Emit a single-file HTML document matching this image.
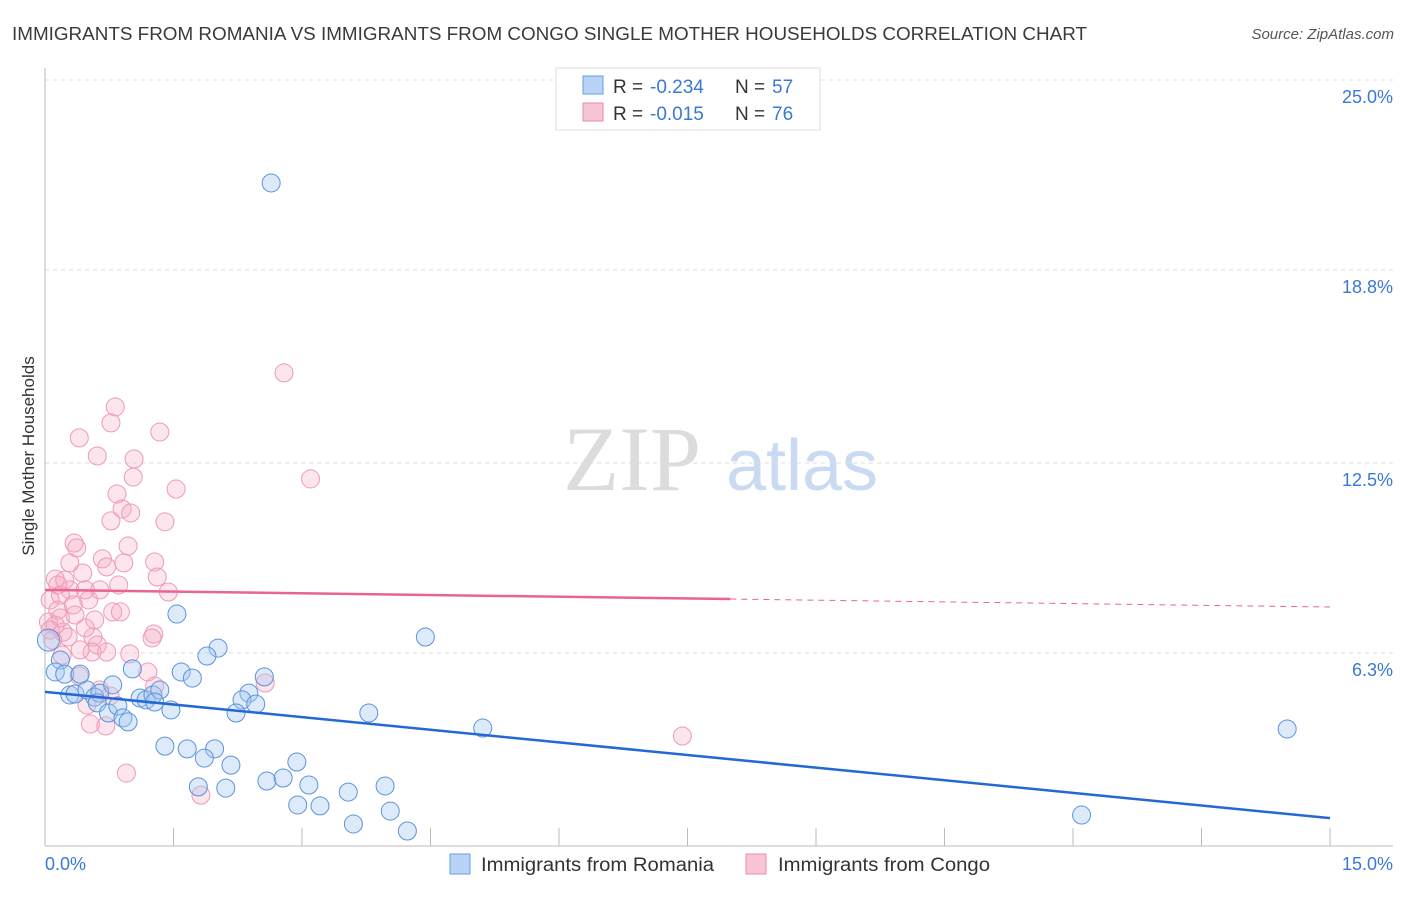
<!DOCTYPE html>
<html><head><meta charset="utf-8"><style>
body{margin:0;background:#fff;font-family:"Liberation Sans",sans-serif;}
svg text{font-family:"Liberation Sans",sans-serif;}
</style></head><body>
<svg id="chart" width="1406" height="892" viewBox="0 0 1406 892" xmlns="http://www.w3.org/2000/svg">
<text x="12" y="40" font-size="18" fill="#3a3a3a" textLength="1075" lengthAdjust="spacingAndGlyphs">IMMIGRANTS FROM ROMANIA VS IMMIGRANTS FROM CONGO SINGLE MOTHER HOUSEHOLDS CORRELATION CHART</text>
<text x="1394" y="39" font-size="15" fill="#555" font-style="italic" text-anchor="end">Source: ZipAtlas.com</text>
<g>
<text x="632" y="490" font-size="92" fill="#dcdcdc" text-anchor="middle" style="font-family:'Liberation Serif',serif">ZIP</text>
<text x="802" y="490" font-size="72" fill="#c9daf1" text-anchor="middle">atlas</text>
</g>
<g id="grid"></g>
<g id="axes"></g>
<g id="marks"></g>
<text transform="translate(34,456) rotate(-90)" font-size="17" fill="#333" text-anchor="middle">Single Mother Households</text>
<g>
<rect x="556" y="68" width="264" height="62" fill="#fff" stroke="#ddd"/>
<rect x="583" y="76" width="20" height="18" fill="#b8d3f5" stroke="#6a9de0"/>
<text x="613" y="93" font-size="19" fill="#333">R =</text>
<text x="650" y="93" font-size="19" fill="#3a78d8">-0.234</text>
<text x="735" y="93" font-size="19" fill="#333">N =</text>
<text x="772" y="93" font-size="19" fill="#3a78d8">57</text>
<rect x="583" y="103" width="20" height="18" fill="#f9c5d4" stroke="#e98aa8"/>
<text x="613" y="120" font-size="19" fill="#333">R =</text>
<text x="650" y="120" font-size="19" fill="#3a78d8">-0.015</text>
<text x="735" y="120" font-size="19" fill="#333">N =</text>
<text x="772" y="120" font-size="19" fill="#3a78d8">76</text>
</g>
<g>
<rect x="450" y="854" width="20" height="20" fill="#b8d3f5" stroke="#6a9de0"/>
<text x="481" y="871" font-size="19" fill="#333" textLength="233" lengthAdjust="spacingAndGlyphs">Immigrants from Romania</text>
<rect x="746" y="854" width="20" height="20" fill="#f9c5d4" stroke="#e98aa8"/>
<text x="778" y="871" font-size="19" fill="#333" textLength="212" lengthAdjust="spacingAndGlyphs">Immigrants from Congo</text>
</g>
</svg>
<script>
const yTicks=[6.3,12.5,18.8,25.0];
const yTickLabels=["6.3%","12.5%","18.8%","25.0%"];
const xTickLabels=["0.0%","15.0%"];
const blueX=[2.64,4.44,5.11,14.50,12.10,1.54,2.02,1.89,1.02,1.59,1.72,2.56,2.38,2.30,2.46,2.23,3.78,0.18,0.12,0.23,0.29,0.35,0.49,0.58,0.64,0.79,0.61,0.74,0.85,0.91,0.97,1.11,1.18,1.26,1.34,1.28,1.47,1.40,1.66,1.98,1.86,2.17,1.79,2.11,2.59,2.78,2.94,3.08,2.95,3.21,3.54,3.97,4.03,3.60,4.23,0.41,0.04];
const blueY=[21.64,6.82,3.85,3.82,1.01,7.57,6.46,6.20,5.78,5.68,5.48,5.52,4.99,4.77,4.63,4.34,4.34,6.07,5.68,5.61,4.93,4.96,5.09,4.86,4.99,5.26,4.67,4.34,4.57,4.18,4.05,4.83,4.77,4.93,5.09,4.70,4.44,3.26,3.17,3.17,2.87,2.64,1.93,1.89,2.12,2.22,2.74,1.99,1.34,1.31,1.76,1.96,1.14,0.72,0.49,5.61,6.72];
const pinkX=[2.79,3.10,0.82,0.77,0.40,1.34,0.61,1.04,1.03,1.53,0.84,0.90,1.00,0.77,1.40,0.34,0.37,1.28,0.67,0.92,0.72,0.97,1.31,0.29,0.12,0.44,0.86,1.44,0.51,0.79,1.27,1.25,0.29,0.18,0.33,0.06,0.15,0.04,0.12,0.21,0.27,0.56,0.61,0.55,0.72,0.99,0.41,1.20,1.28,2.57,7.44,0.40,0.64,0.76,0.49,0.53,0.71,0.95,1.82,0.18,0.09,0.23,0.35,0.47,0.58,0.88,0.20,0.15,0.06,0.64,0.47];
const pinkY=[15.44,11.98,14.33,13.81,13.32,13.51,12.73,12.63,12.04,11.65,11.49,11.00,10.87,10.61,10.58,9.89,9.73,9.27,9.37,9.24,9.11,9.79,8.78,9.24,8.71,8.91,8.52,8.29,8.03,7.64,6.92,6.79,8.36,8.19,7.87,8.03,7.70,7.31,7.21,6.98,6.82,6.82,6.56,6.33,6.33,6.27,6.40,5.68,5.22,5.32,3.59,5.55,5.09,4.90,4.60,3.98,3.92,2.38,1.66,7.44,6.72,8.68,7.54,8.36,7.38,7.64,6.23,8.52,7.05,8.36,7.12];
const blueTrend=[5.03,0.91];
const pinkTrend=[8.36,8.06,7.80];
const pinkSolidEnd=8.0;
const X0=45,X1=1330,Y0=846,PXPER=191.5/6.25;
const sx=v=>X0+(v/15)*(X1-X0);
const sy=v=>Y0-v*PXPER;
const NS="http://www.w3.org/2000/svg";
function mk(tag,attrs,parent){const e=document.createElementNS(NS,tag);for(const k in attrs)e.setAttribute(k,attrs[k]);parent.appendChild(e);return e;}
const grid=document.getElementById('grid'),axes=document.getElementById('axes'),marks=document.getElementById('marks');
yTicks.forEach((t,i)=>{
 const l=mk('line',{x1:X0,x2:1393,y1:sy(t),y2:sy(t),stroke:'#ddd','stroke-dasharray':'4,4'},grid);
 
 
 const tx=mk('text',{x:1393,y:sy(t)+23,'font-size':18,fill:'#3a78d8','text-anchor':'end'},axes);
 tx.textContent=yTickLabels[i];
 
 
});
const ya=mk('line',{x1:X0,x2:X0,y1:68,y2:Y0,stroke:'#bbb'},axes);


const xa=mk('line',{x1:X0,x2:1393,y1:Y0,y2:Y0,stroke:'#bbb'},axes);


for(let i=1;i<=10;i++){
 const x=sx(i*1.5);
 const t=mk('line',{x1:x,x2:x,y1:828,y2:Y0,stroke:'#bbb'},axes);
 
 
}
const xl0=mk('text',{x:45,y:870,'font-size':18,fill:'#3a78d8'},axes);xl0.textContent=xTickLabels[0];


const xl1=mk('text',{x:1393,y:870,'font-size':18,fill:'#3a78d8','text-anchor':'end'},axes);xl1.textContent=xTickLabels[1];


pinkX.forEach((v,i)=>{
 const c=mk('circle',{cx:sx(v),cy:sy(pinkY[i]),r:9,fill:'rgba(246,170,196,0.3)',stroke:'#ee9ab6','stroke-width':1},marks);
 
 
});
blueX.forEach((v,i)=>{
 const c=mk('circle',{cx:sx(v),cy:sy(blueY[i]),r:i==blueX.length-1?11:9,fill:'rgba(166,199,242,0.38)',stroke:'#5b93dc','stroke-width':1},marks);
 
 
});
const bt=mk('line',{x1:sx(0),y1:sy(blueTrend[0]),x2:sx(15),y2:sy(blueTrend[1]),stroke:'#2468d6','stroke-width':2.5},marks);


const pt=mk('line',{x1:sx(0),y1:sy(pinkTrend[0]),x2:sx(pinkSolidEnd),y2:sy(pinkTrend[1]),stroke:'#e86592','stroke-width':2.5},marks);


const pd=mk('line',{x1:sx(pinkSolidEnd),y1:sy(pinkTrend[1]),x2:sx(15),y2:sy(pinkTrend[2]),stroke:'#e86592','stroke-width':1,'stroke-dasharray':'6,5'},marks);


</script>
</body></html>
